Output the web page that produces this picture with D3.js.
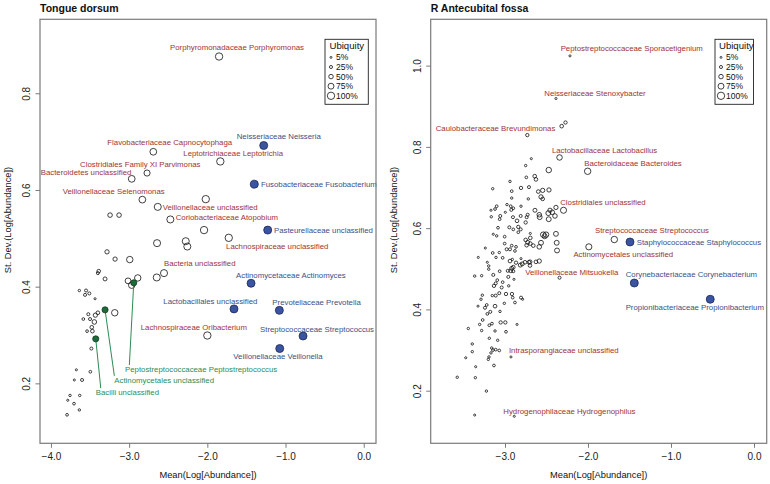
<!DOCTYPE html>
<html><head><meta charset="utf-8">
<script src="https://cdn.jsdelivr.net/npm/d3@7"></script>
<style>
body{margin:0;background:#fff}
svg{display:block}
text{font-family:"Liberation Sans",Arial,Helvetica,sans-serif}
</style>
</head><body>
<svg id="chart" width="770" height="484"></svg>
<script>
// ---------------- DATA ----------------
const panelTitles = ["Tongue dorsum", "R Antecubital fossa"];
const xAxisTitle = "Mean(Log[Abundance])";
const yAxisTitle = "St. Dev.(Log[Abundance])";
const xTicksTongue = [-4, -3, -2, -1, 0];
const yTicksTongue = [0.2, 0.4, 0.6, 0.8];
const xTicksArm = [-3, -2, -1, 0];
const yTicksArm = [0.2, 0.4, 0.6, 0.8, 1.0];
const ubiquityLevels = [0.05, 0.25, 0.5, 0.75, 1.0];
const ubiquityLabels = ["5%", "25%", "50%", "75%", "100%"];
const legendTitle = "Ubiquity";

// unlabeled taxa: [mean log abundance, sd log abundance, ubiquity]
const tongueOther = [
[-3.244,0.548,0.45],[-3.129,0.548,0.45],[-3.283,0.472,0.4],[-3.180,0.457,0.4],[-2.992,0.456,0.75],
[-3.389,0.432,0.3],[-3.400,0.428,0.2],[-3.308,0.416,0.35],[-3.014,0.412,0.65],[-2.890,0.418,0.75],
[-2.967,0.403,0.75],[-2.647,0.419,0.85],[-3.637,0.392,0.1],[-3.551,0.392,0.2],[-3.564,0.383,0.2],
[-3.509,0.386,0.2],[-3.436,0.375,0.05],[-3.184,0.346,0.75],[-3.522,0.343,0.2],[-3.432,0.341,0.4],
[-3.400,0.346,0.3],[-3.586,0.333,0.15],[-3.500,0.333,0.2],[-3.445,0.327,0.45],[-3.478,0.316,0.3],
[-3.538,0.308,0.15],[-3.470,0.308,0.3],[-3.483,0.272,0.2],[-3.675,0.228,0.05],[-3.496,0.224,0.15],
[-3.701,0.207,0.05],[-3.602,0.207,0.2],[-3.756,0.175,0.1],[-3.632,0.175,0.1],[-3.785,0.165,0.05],
[-3.705,0.158,0.15],[-3.637,0.145,0.1],[-3.794,0.135,0.15],[-2.020,0.581,0.9],[-2.042,0.517,0.9],
[-2.276,0.494,0.85],[-2.256,0.483,0.85],[-2.643,0.490,0.85]
];
// labeled taxa
const tongueNamed = [
{name:"Porphyromonadaceae Porphyromonas", mean:-1.850, sd:0.876, ubiq:0.9, group:"other"},
{name:"Flavobacteriaceae Capnocytophaga", mean:-2.691, sd:0.679, ubiq:0.8, group:"other"},
{name:"Leptotrichiaceae Leptotrichia", mean:-1.834, sd:0.659, ubiq:0.9, group:"other"},
{name:"Clostridiales Family XI Parvimonas", mean:-2.771, sd:0.635, ubiq:0.7, group:"other"},
{name:"Bacteroidetes unclassified", mean:-2.967, sd:0.623, ubiq:0.8, group:"other"},
{name:"Veillonellaceae Selenomonas", mean:-2.831, sd:0.580, ubiq:0.8, group:"other"},
{name:"Veillonellaceae unclassified", mean:-2.634, sd:0.565, ubiq:0.85, group:"other"},
{name:"Coriobacteriaceae Atopobium", mean:-2.473, sd:0.539, ubiq:0.85, group:"other"},
{name:"Lachnospiraceae unclassified", mean:-1.726, sd:0.501, ubiq:0.9, group:"other"},
{name:"Bacteria unclassified", mean:-2.554, sd:0.428, ubiq:0.85, group:"other"},
{name:"Lachnospiraceae Oribacterium", mean:-2.000, sd:0.299, ubiq:0.9, group:"other"},
{name:"Neisseriaceae Neisseria", mean:-1.279, sd:0.692, ubiq:1, group:"core"},
{name:"Fusobacteriaceae Fusobacterium", mean:-1.399, sd:0.612, ubiq:1, group:"core"},
{name:"Pasteurellaceae unclassified", mean:-1.228, sd:0.517, ubiq:1, group:"core"},
{name:"Actinomycetaceae Actinomyces", mean:-1.441, sd:0.407, ubiq:1, group:"core"},
{name:"Lactobacillales unclassified", mean:-1.659, sd:0.354, ubiq:1, group:"core"},
{name:"Prevotellaceae Prevotella", mean:-1.079, sd:0.351, ubiq:1, group:"core"},
{name:"Streptococcaceae Streptococcus", mean:-0.776, sd:0.298, ubiq:1, group:"core"},
{name:"Veillonellaceae Veillonella", mean:-1.074, sd:0.272, ubiq:1, group:"core"},
{name:"Peptostreptococcaceae Peptostreptococcus", mean:-2.941, sd:0.408, ubiq:0.7, group:"green"},
{name:"Actinomycetales unclassified", mean:-3.308, sd:0.352, ubiq:0.7, group:"green"},
{name:"Bacilli unclassified", mean:-3.427, sd:0.292, ubiq:0.7, group:"green"}
];

const armOther = [
[-2.731,0.829,0.25],[-2.271,0.860,0.25],[-2.473,0.743,0.6],[-2.683,0.771,0.05],[-2.751,0.754,0.1],
[-2.642,0.728,0.3],[-2.627,0.720,0.3],[-2.743,0.725,0.15],[-2.940,0.715,0.1],[-3.148,0.697,0.1],
[-2.919,0.691,0.15],[-2.807,0.699,0.25],[-2.711,0.701,0.2],[-2.919,0.674,0.1],[-2.719,0.672,0.1],
[-2.546,0.693,0.4],[-2.470,0.694,0.4],[-2.599,0.690,0.3],[-2.566,0.677,0.4],[-2.546,0.672,0.3],
[-3.100,0.654,0.15],[-3.120,0.647,0.15],[-2.931,0.654,0.15],[-2.900,0.649,0.15],[-2.807,0.654,0.1],
[-2.639,0.644,0.35],[-2.458,0.644,0.4],[-2.386,0.651,0.4],[-3.165,0.628,0.1],[-3.057,0.630,0.2],
[-2.996,0.639,0.05],[-3.064,0.622,0.15],[-2.904,0.627,0.2],[-2.811,0.630,0.2],[-2.739,0.627,0.2],
[-2.855,0.618,0.3],[-2.751,0.614,0.25],[-2.582,0.627,0.5],[-2.478,0.637,0.5],[-2.473,0.622,0.5],
[-2.398,0.630,0.45],[-3.084,0.601,0.15],[-2.948,0.602,0.2],[-2.900,0.597,0.15],[-2.840,0.603,0.25],
[-2.811,0.597,0.2],[-2.840,0.590,0.15],[-2.695,0.587,0.05],[-3.141,0.585,0.05],[-3.100,0.581,0.1],
[-3.004,0.579,0.15],[-2.539,0.584,0.6],[-2.506,0.584,0.6],[-2.522,0.580,0.5],[-2.386,0.586,0.5],
[-2.566,0.564,0.5],[-2.377,0.564,0.5],[-2.373,0.545,0.5],[-2.751,0.571,0.3],[-2.727,0.565,0.35],
[-2.739,0.558,0.3],[-2.695,0.562,0.3],[-2.659,0.557,0.3],[-3.237,0.551,0.05],[-3.004,0.562,0.15],
[-2.980,0.548,0.2],[-2.940,0.548,0.2],[-2.880,0.544,0.15],[-2.867,0.554,0.15],[-2.919,0.557,0.15],
[-3.148,0.539,0.15],[-3.069,0.540,0.1],[-3.028,0.527,0.15],[-3.108,0.528,0.1],[-2.912,0.523,0.1],
[-2.807,0.525,0.05],[-2.940,0.519,0.3],[-2.867,0.515,0.25],[-3.322,0.528,0.05],[-3.213,0.516,0.05],
[-3.196,0.507,0.1],[-3.196,0.499,0.1],[-3.064,0.494,0.15],[-2.967,0.495,0.2],[-2.919,0.501,0.35],
[-2.931,0.495,0.3],[-2.900,0.494,0.2],[-2.816,0.509,0.35],[-2.792,0.512,0.35],[-2.699,0.517,0.35],
[-2.587,0.519,0.4],[-2.699,0.508,0.3],[-3.141,0.485,0.2],[-2.960,0.480,0.2],[-2.892,0.474,0.05],
[-3.365,0.482,0.1],[-3.281,0.483,0.1],[-3.093,0.472,0.15],[-3.112,0.464,0.2],[-3.028,0.467,0.15],
[-3.040,0.454,0.2],[-2.955,0.458,0.1],[-3.133,0.458,0.25],[-3.069,0.440,0.2],[-2.988,0.438,0.25],
[-2.916,0.438,0.25],[-2.807,0.429,0.2],[-2.787,0.425,0.05],[-2.907,0.429,0.15],[-2.880,0.417,0.15],
[-3.008,0.415,0.1],[-3.153,0.434,0.1],[-3.112,0.434,0.2],[-3.273,0.435,0.1],[-3.289,0.425,0.1],
[-3.120,0.408,0.3],[-3.220,0.411,0.15],[-3.241,0.404,0.2],[-3.325,0.408,0.05],[-3.177,0.394,0.2],
[-3.213,0.389,0.15],[-3.060,0.395,0.1],[-3.269,0.374,0.15],[-3.157,0.365,0.15],[-3.189,0.361,0.15],
[-3.305,0.363,0.1],[-3.052,0.368,0.25],[-2.996,0.368,0.25],[-2.855,0.363,0.05],[-3.442,0.353,0.1],
[-3.281,0.348,0.1],[-3.120,0.347,0.1],[-2.988,0.345,0.15],[-3.189,0.329,0.1],[-3.088,0.324,0.1],
[-3.394,0.315,0.1],[-3.160,0.305,0.1],[-3.145,0.300,0.15],[-3.112,0.301,0.15],[-3.069,0.299,0.15],
[-3.169,0.293,0.1],[-3.394,0.296,0.1],[-3.193,0.283,0.1],[-3.201,0.277,0.1],[-3.473,0.281,0.05],
[-3.353,0.259,0.05],[-3.133,0.262,0.15],[-3.575,0.233,0.1],[-3.357,0.232,0.1],[-3.224,0.199,0.1],
[-3.365,0.140,0.05],[-3.169,0.644,0.05],[-2.976,0.658,0.1],[-2.924,0.645,0.2],[-2.727,0.633,0.2],
[-2.587,0.633,0.45],[-2.430,0.639,0.45],[-2.587,0.554,0.45],[-2.695,0.576,0.3],[-2.711,0.516,0.3],
[-2.759,0.516,0.3],[-2.627,0.517,0.3],[-2.900,0.504,0.3]
];
const armNamed = [
{name:"Peptostreptococcaceae Sporacetigenium", mean:-2.217, sd:1.024, ubiq:0.05, group:"other"},
{name:"Neisseriaceae Stenoxybacter", mean:-2.386, sd:0.919, ubiq:0.05, group:"other"},
{name:"Caulobacteraceae Brevundimonas", mean:-2.317, sd:0.851, ubiq:0.3, group:"other"},
{name:"Lactobacillaceae Lactobacillus", mean:-2.343, sd:0.774, ubiq:0.6, group:"other"},
{name:"Bacteroidaceae Bacteroides", mean:-2.004, sd:0.740, ubiq:0.75, group:"other"},
{name:"Clostridiales unclassified", mean:-2.295, sd:0.644, ubiq:0.7, group:"other"},
{name:"Streptococcaceae Streptococcus", mean:-1.683, sd:0.572, ubiq:0.75, group:"other"},
{name:"Actinomycetales unclassified", mean:-1.990, sd:0.554, ubiq:0.7, group:"other"},
{name:"Veillonellaceae Mitsuokella", mean:-2.343, sd:0.478, ubiq:0.2, group:"other"},
{name:"Intrasporangiaceae unclassified", mean:-2.928, sd:0.283, ubiq:0.05, group:"other"},
{name:"Hydrogenophilaceae Hydrogenophilus", mean:-2.888, sd:0.137, ubiq:0.05, group:"other"},
{name:"Staphylococcaceae Staphylococcus", mean:-1.494, sd:0.566, ubiq:1, group:"core"},
{name:"Corynebacteriaceae Corynebacterium", mean:-1.442, sd:0.465, ubiq:1, group:"core"},
{name:"Propionibacteriaceae Propionibacterium", mean:-0.527, sd:0.425, ubiq:1, group:"core"}
];

// ---------------- LABEL PLACEMENT (style: pixel offsets from the point) ----------------
// [dx to text start, dy to text middle, optional leader-line end dx, dy]
const tonguePlacement = {
"Porphyromonadaceae Porphyromonas":[-49,-9],
"Flavobacteriaceae Capnocytophaga":[-46,-9.3],
"Leptotrichiaceae Leptotrichia":[-37,-8],
"Clostridiales Family XI Parvimonas":[-67,-9],
"Bacteroidetes unclassified":[-91,-6.7],
"Veillonellaceae Selenomonas":[-79.6,-8],
"Veillonellaceae unclassified":[5,0],
"Coriobacteriaceae Atopobium":[5.4,-2],
"Lachnospiraceae unclassified":[-2.7,8.3],
"Bacteria unclassified":[0,-9.7],
"Lachnospiraceae Oribacterium":[-66.6,-8.6],
"Neisseriaceae Neisseria":[-27,-9.4],
"Fusobacteriaceae Fusobacterium":[6.7,0],
"Pasteurellaceae unclassified":[6.3,0],
"Actinomycetaceae Actinomyces":[-15,-7.7],
"Lactobacillales unclassified":[-70.7,-8],
"Prevotellaceae Prevotella":[-7,-7.6],
"Streptococcaceae Streptococcus":[-43,-6.7],
"Veillonellaceae Veillonella":[-46.4,7.3],
"Peptostreptococcaceae Peptostreptococcus":[-8.7,86.6,-4.4,82.3],
"Actinomycetales unclassified":[9.3,70.7,9.3,66],
"Bacilli unclassified":[0,53.6,5,49.3]
};
const armPlacement = {
"Peptostreptococcaceae Sporacetigenium":[-9.3,-7.3],
"Neisseriaceae Stenoxybacter":[-11.7,-5.7],
"Caulobacteraceae Brevundimonas":[-126,1.7],
"Lactobacillaceae Lactobacillus":[-7.6,-7.3],
"Bacteroidaceae Bacteroides":[-3.4,-8],
"Clostridiales unclassified":[-3.3,-7.6],
"Streptococcaceae Streptococcus":[-19.3,-9],
"Actinomycetales unclassified":[-15.4,7.6],
"Veillonellaceae Mitsuokella":[-34.3,-5],
"Intrasporangiaceae unclassified":[-2,-6.7],
"Hydrogenophilaceae Hydrogenophilus":[-11,-5.3],
"Staphylococcaceae Staphylococcus":[6.7,0],
"Corynebacteriaceae Corynebacterium":[-8.6,-9],
"Propionibacteriaceae Propionibacterium":[-84.6,8.4]
};

// ---------------- STYLE ----------------
const frameColor = "#7a7a7a";
const tickTextColor = "#222";
const col = {
  otherText:"#a03434", coreText:"#3c4f86", greenText:"#2d8c55",
  coreFill:"#3b54a2", coreStroke:"#1c2756", greenFill:"#1d6b3b", greenStroke:"#0f3d20", greenLine:"#2d8c55"
};
const rScale = u => 0.9 + 3.1 * u;
const legendRowY = i => 57.4 + i * 9.6;

const svg = d3.select("#chart");

const panels = [
  {title:panelTitles[0], left:40, right:376, top:19.3, bottom:443.3,
   xDomain:[-4.14, 0.157], yDomain:[0.076, 0.953], xTicks:xTicksTongue, yTicks:yTicksTongue,
   other:tongueOther, named:tongueNamed, place:tonguePlacement, yTitleX:7.5,
   legend:{x:325, w:43.3, sym:331, txt:336, tx:346.8}},
  {title:panelTitles[1], left:430.7, right:766.7, top:19.3, bottom:443.3,
   xDomain:[-3.895, 0.153], yDomain:[0.0705, 1.114], xTicks:xTicksArm, yTicks:yTicksArm,
   other:armOther, named:armNamed, place:armPlacement, yTitleX:393.5,
   legend:{x:715, w:38.5, sym:721, txt:726, tx:736.3}}
];

panels.forEach(p => {
  const x = d3.scaleLinear().domain(p.xDomain).range([p.left, p.right]);
  const y = d3.scaleLinear().domain(p.yDomain).range([p.bottom, p.top]);
  const g = svg.append("g");

  // title
  g.append("text").attr("x", p.left).attr("y", 12.4)
    .attr("font-size", 10.5).attr("font-weight", "bold").attr("fill", "#111").text(p.title);

  // x axis
  const xa = g.append("g").attr("transform", `translate(0,${p.bottom})`)
    .call(d3.axisBottom(x).tickValues(p.xTicks).tickSize(4.5).tickPadding(5.2));
  xa.select(".domain").remove();
  xa.attr("font-family", null).attr("font-size", null);
  xa.selectAll("line").attr("stroke", frameColor);
  xa.selectAll("text").attr("font-size", 10).attr("fill", tickTextColor);

  // y axis
  const ya = g.append("g").attr("transform", `translate(${p.left},0)`)
    .call(d3.axisLeft(y).tickValues(p.yTicks).tickSize(4.5).tickFormat(d3.format(".1f")));
  ya.select(".domain").remove();
  ya.attr("font-family", null).attr("font-size", null);
  ya.selectAll("line").attr("stroke", frameColor);
  ya.selectAll("text").attr("x", null).attr("dy", "0.35em")
    .attr("transform", "translate(-13.3,0) rotate(-90)")
    .attr("text-anchor", "middle").attr("font-size", 10).attr("fill", tickTextColor);

  // axis titles
  g.append("text").attr("x", (p.left + p.right) / 2).attr("y", 475).attr("dy", "0.35em")
    .attr("text-anchor", "middle").attr("font-size", 9.3).attr("fill", "#111").text(xAxisTitle);
  g.append("text").attr("transform", `translate(${p.yTitleX},220) rotate(-90)`).attr("dy", "0.35em")
    .attr("text-anchor", "middle").attr("font-size", 9.3).attr("fill", "#111").text(yAxisTitle);

  // unlabeled taxa
  g.append("g").selectAll("circle").data(p.other).join("circle")
    .attr("cx", d => x(d[0])).attr("cy", d => y(d[1])).attr("r", d => rScale(d[2]))
    .attr("fill", "none").attr("stroke", "#111").attr("stroke-width", 0.8);

  // leader lines (green)
  p.named.filter(d => d.group === "green").forEach(d => {
    const pl = p.place[d.name];
    g.append("line").attr("x1", x(d.mean)).attr("y1", y(d.sd))
      .attr("x2", x(d.mean) + pl[2]).attr("y2", y(d.sd) + pl[3])
      .attr("stroke", col.greenLine).attr("stroke-width", 1);
  });

  // labeled taxa
  g.append("g").selectAll("circle").data(p.named).join("circle")
    .attr("cx", d => x(d.mean)).attr("cy", d => y(d.sd)).attr("r", d => rScale(d.ubiq))
    .attr("fill", d => d.group === "core" ? col.coreFill : d.group === "green" ? col.greenFill : "none")
    .attr("stroke", d => d.group === "core" ? col.coreStroke : d.group === "green" ? col.greenStroke : "#111")
    .attr("stroke-width", 0.8);

  g.append("g").selectAll("text").data(p.named).join("text")
    .attr("x", d => x(d.mean) + p.place[d.name][0])
    .attr("y", d => y(d.sd) + p.place[d.name][1])
    .attr("dy", "0.35em").attr("font-size", 7.8)
    .attr("fill", d => d.group === "core" ? col.coreText : d.group === "green" ? col.greenText : col.otherText)
    .text(d => d.name);

  // legend
  const L = p.legend;
  const lg = g.append("g");
  lg.append("rect").attr("x", L.x).attr("y", 39.3).attr("width", L.w).attr("height", 65)
    .attr("fill", "#fff").attr("stroke", "#222").attr("stroke-width", 0.9);
  lg.append("text").attr("x", L.tx).attr("y", 45.6).attr("dy", "0.35em").attr("text-anchor", "middle")
    .attr("font-size", 9.6).attr("fill", "#111").text(legendTitle);
  lg.selectAll("circle").data(ubiquityLevels).join("circle")
    .attr("cx", L.sym).attr("cy", (d, i) => legendRowY(i)).attr("r", d => rScale(d) * 0.92)
    .attr("fill", "none").attr("stroke", "#111").attr("stroke-width", 0.8);
  lg.selectAll("text.lab").data(ubiquityLabels).join("text").attr("class", "lab")
    .attr("x", L.txt).attr("y", (d, i) => legendRowY(i)).attr("dy", "0.35em")
    .attr("font-size", 8.5).attr("fill", "#111").text(d => d);

  // frame
  g.append("rect").attr("x", p.left).attr("y", p.top)
    .attr("width", p.right - p.left).attr("height", p.bottom - p.top)
    .attr("fill", "none").attr("stroke", frameColor).attr("stroke-width", 1.2);
});
</script>
</body></html>
